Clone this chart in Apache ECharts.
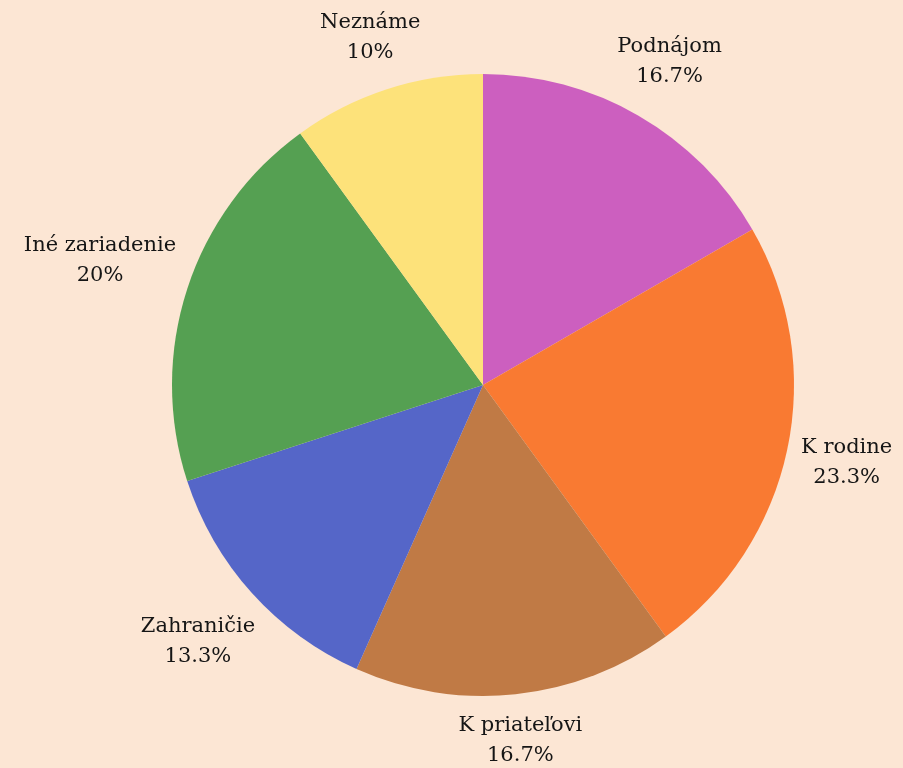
<!DOCTYPE html>
<html>
<head>
<meta charset="utf-8">
<script src="https://cdn.jsdelivr.net/npm/echarts@6/dist/echarts.min.js"></script>
<style>
  html, body { margin: 0; padding: 0; background: #fce6d4; }
  #chart { width: 903px; height: 768px; }
</style>
</head>
<body>
<div id="chart"></div>
<script>
const categories = ['Podnájom', 'K rodine', 'K priateľovi', 'Zahraničie', 'Iné zariadenie', 'Neznáme'];
const counts = [5, 7, 5, 4, 6, 3];
const colors = ['#cc5fbf', '#f97a32', '#c07a45', '#5566c8', '#55a052', '#fde27a'];

const myChart = echarts.init(document.getElementById('chart'));

// keep labels just outside the circle, centred on the slice's mid angle
const labelGap = 10;
const placeLabel = params => {
  let layout;
  try {
    layout = myChart.getModel().getSeriesByIndex(0).getData().getItemLayout(params.dataIndex);
  } catch (e) {
    return {};
  }
  if (!layout) return {};
  const mid = (layout.startAngle + layout.endAngle) / 2;
  const dx = Math.cos(mid), dy = Math.sin(mid);
  const w = params.labelRect.width, h = params.labelRect.height;
  const d = layout.r + labelGap + Math.abs(dx) * w / 2 + Math.abs(dy) * h / 2;
  return {
    x: layout.cx + dx * d,
    y: layout.cy + dy * d,
    align: 'center',
    verticalAlign: 'middle'
  };
};

const option = {
  backgroundColor: '#fce6d4',
  animation: false,
  color: colors,
  series: [{
    type: 'pie',
    center: [483, 385],
    radius: [0, 311],
    startAngle: 90,
    clockwise: true,
    percentPrecision: 1,
    label: {
      show: true,
      position: 'outside',
      formatter: '{b}\n{d}%',
      fontFamily: 'DejaVu Serif',
      fontSize: 21,
      lineHeight: 30,
      color: '#151515',
      align: 'center',
      overflow: 'none',
      bleedMargin: 0
    },
    labelLine: { show: false },
    labelLayout: placeLabel,
    emphasis: { disabled: true },
    data: categories.map((name, i) => ({ name: name, value: counts[i] }))
  }]
};

myChart.setOption(option);
</script>
</body>
</html>
